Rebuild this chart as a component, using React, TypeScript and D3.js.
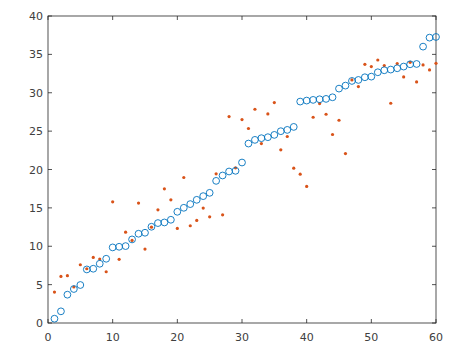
import React from "react";
import * as d3 from "d3";

const xs = d3.range(1, 61);
const fitValues = [0.56,1.52,3.69,4.43,4.95,6.98,7.07,7.72,8.37,9.85,9.93,10.02,10.89,11.63,11.76,12.54,13.02,13.10,13.45,14.49,15.01,15.49,16.05,16.53,16.96,18.52,19.22,19.74,19.83,20.91,23.38,23.86,24.08,24.21,24.51,24.99,25.16,25.55,28.85,28.98,29.07,29.15,29.20,29.41,30.54,30.93,31.54,31.67,32.02,32.10,32.67,32.93,33.02,33.19,33.41,33.71,33.75,36.01,37.18,37.27];
const rawValues = [4.03,6.07,6.16,4.69,7.59,7.07,8.55,8.33,6.68,15.79,8.29,11.84,10.76,15.62,9.63,12.49,14.75,17.48,16.05,12.32,18.96,12.67,13.36,14.97,13.84,19.44,14.10,26.90,20.22,26.51,25.34,27.85,23.38,27.24,28.72,22.56,24.30,20.17,19.39,17.79,26.81,28.59,27.20,24.56,26.42,22.08,31.67,30.80,33.71,33.41,34.27,33.54,28.63,33.80,32.06,33.97,31.41,33.62,32.97,33.84];
const xTicks = [0,10,20,30,40,50,60];
const yTicks = [0,5,10,15,20,25,30,35,40];

export default function App() {
  const W = 460, H = 355;
  const left = 48, right = 436, top = 16, bottom = 323;
  const x = d3.scaleLinear().domain([0, 60]).range([left, right]);
  const y = d3.scaleLinear().domain([0, 40]).range([bottom, top]);
  const axisColor = "#262626";
  const textColor = "#404040";
  const tl = 4;
  return (
    <svg width={W} height={H} style={{ position: "absolute", left: 0, top: 0 }} fontFamily="DejaVu Sans, sans-serif">
      <rect x={0} y={0} width={W} height={H} fill="#fff" />
      <rect x={left} y={top} width={right - left} height={bottom - top} fill="#fff" stroke={axisColor} strokeWidth={0.8} />
      {xTicks.map((t) => (
        <g key={"x" + t}>
          <line x1={x(t)} x2={x(t)} y1={bottom} y2={bottom - tl} stroke={axisColor} strokeWidth={0.8} />
          <line x1={x(t)} x2={x(t)} y1={top} y2={top + tl} stroke={axisColor} strokeWidth={0.8} />
          <text x={x(t)} y={bottom + 18} textAnchor="middle" fontSize={11} fill={textColor}>{t}</text>
        </g>
      ))}
      {yTicks.map((t) => (
        <g key={"y" + t}>
          <line x1={left} x2={left + tl} y1={y(t)} y2={y(t)} stroke={axisColor} strokeWidth={0.8} />
          <line x1={right} x2={right - tl} y1={y(t)} y2={y(t)} stroke={axisColor} strokeWidth={0.8} />
          <text x={left - 5} y={y(t) + 4} textAnchor="end" fontSize={11} fill={textColor}>{t}</text>
        </g>
      ))}
      {xs.map((v, i) => (
        <circle key={"r" + i} cx={x(v)} cy={y(rawValues[i])} r={1.6} fill="#D95319" />
      ))}
      {xs.map((v, i) => (
        <circle key={"f" + i} cx={x(v)} cy={y(fitValues[i])} r={3.4} fill="none" stroke="#0072BD" strokeWidth={0.9} />
      ))}
    </svg>
  );
}
